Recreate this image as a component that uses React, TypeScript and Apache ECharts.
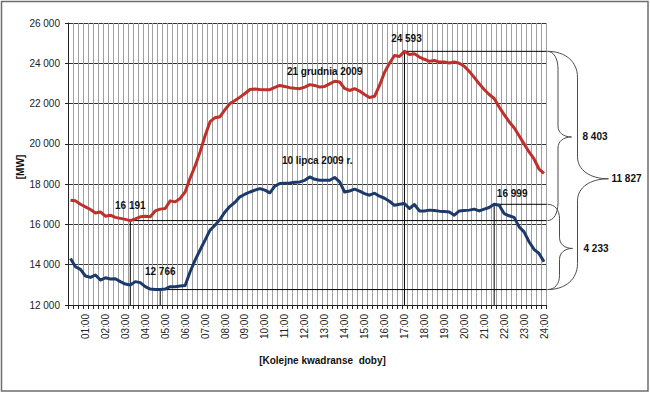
import React, { useEffect, useRef } from "react";
import * as echarts from "echarts";

// 96 quarter-hour categories (00:15 ... 24:00)
const categories: string[] = [];
for (let h = 0; h < 24; h++) {
  for (const m of [15, 30, 45, 60]) {
    const hh = m === 60 ? h + 1 : h;
    const mm = m === 60 ? 0 : m;
    categories.push(String(hh).padStart(2, "0") + ":" + String(mm).padStart(2, "0"));
  }
}

const december21: number[] = [
  17200, 17170, 17000, 16870, 16740, 16570, 16620, 16410, 16460, 16350, 16300, 16250,
  16190.6, 16280, 16380, 16410, 16380, 16670, 16760, 16790, 17170, 17120, 17290, 17610,
  18300, 18900, 19600, 20400, 21100, 21300, 21350, 21700, 22000, 22150, 22320, 22500,
  22700, 22720, 22700, 22690, 22690, 22800, 22900, 22850, 22790, 22760, 22740, 22820,
  22940, 22900, 22820, 22850, 22980, 23110, 23070, 22750, 22650, 22740, 22620, 22450,
  22300, 22360, 22900, 23550, 24000, 24390, 24340, 24593.4, 24440, 24470, 24310, 24200,
  24100, 24140, 24060, 24060, 24010, 24060, 24000, 23850, 23600, 23300, 22980, 22700,
  22450, 22250, 21830, 21450, 21100, 20800, 20400, 20000, 19600, 19250, 18750, 18530,
];

const july10: number[] = [
  14310, 13900, 13770, 13440, 13370, 13490, 13240, 13350, 13290, 13300, 13160, 13040,
  12990, 13160, 13110, 12910, 12790, 12770, 12766, 12790, 12910, 12910, 12940, 12970,
  13650, 14230, 14730, 15220, 15720, 15960, 16250, 16620, 16900, 17100, 17370, 17500,
  17610, 17700, 17780, 17700, 17570, 17900, 18030, 18050, 18060, 18090, 18110, 18190,
  18360, 18240, 18190, 18190, 18190, 18330, 18110, 17610, 17660, 17750, 17650, 17530,
  17450, 17550, 17400, 17300, 17150, 16950, 17000, 17040, 16790, 16990, 16670, 16670,
  16710, 16690, 16660, 16640, 16620, 16460, 16670, 16690, 16710, 16760, 16670, 16760,
  16840, 16999, 16950, 16540, 16430, 16350, 15880, 15630, 15140, 14760, 14560, 14150,
];

// annotated points (indices into categories)
const redPeakIndex = 67;      // 17:00
const redLowIndex = 12;       // 03:15
const bluePeakIndex = 85;     // 21:30 (evening peak)
const blueLowIndex = 18;      // 04:45

const yMin = 12000;
const yMax = 26000;
const yStep = 2000;

const redName = "21 grudnia 2009";
const blueName = "10 lipca 2009 r.";
const yAxisTitle = "[MW]";
const xAxisTitle = "[Kolejne kwadranse  doby]";

const W = 650;
const H = 393;
const GRID = { left: 68, right: 103.5, top: 23, bottom: 88 };
const FONT = "'Liberation Sans', Arial, sans-serif";
const RED = "#C0302B";
const BLUE = "#1B3A6B";

function fmt(n: number): string {
  return String(Math.round(n)).replace(/\B(?=(\d{3})+(?!\d))/g, " ");
}

function brace(x0: number, yTop: number, yBot: number, xs: number, xt: number, ym: number, r: number, r2: number) {
  const st = { stroke: "#4d4d4d", lineWidth: 1, fill: null as any };
  const els: any[] = [];
  const bc = (x1: number, y1: number, c1x: number, c1y: number, c2x: number, c2y: number, x2: number, y2: number) =>
    els.push({ type: "bezierCurve", shape: { x1, y1, cpx1: c1x, cpy1: c1y, cpx2: c2x, cpy2: c2y, x2, y2 }, style: st, silent: true });
  const ln = (x1: number, y1: number, x2: number, y2: number) =>
    els.push({ type: "line", shape: { x1, y1, x2, y2 }, style: st, silent: true });
  bc(x0, yTop, x0 + (xs - x0) * 0.6, yTop, xs, yTop + r * 0.4, xs, yTop + r);
  ln(xs, yTop + r, xs, ym - r2);
  bc(xs, ym - r2, xs, ym - r2 * 0.4, xs + (xt - xs) * 0.4, ym, xt, ym);
  bc(xt, ym, xs + (xt - xs) * 0.4, ym, xs, ym + r2 * 0.4, xs, ym + r2);
  ln(xs, ym + r2, xs, yBot - r);
  bc(xs, yBot - r, xs, yBot - r * 0.4, x0 + (xs - x0) * 0.6, yBot, x0, yBot);
  return els;
}

export default function App() {
  const ref = useRef<HTMLDivElement>(null);
  useEffect(() => {
    const chart = echarts.init(ref.current!, null, { renderer: "svg", width: W, height: H });
    chart.setOption({
      animation: false,
      backgroundColor: "#ffffff",
      textStyle: { fontFamily: FONT },
      grid: { left: GRID.left, right: GRID.right, top: GRID.top, bottom: GRID.bottom },
      xAxis: {
        type: "category",
        data: categories,
        boundaryGap: true,
        axisLine: { lineStyle: { color: "#222", width: 1 } },
        axisTick: { show: true, interval: 0, length: 4, lineStyle: { color: "#222" } },
        axisLabel: {
          interval: (i: number) => i % 4 === 3,
          rotate: 90,
          margin: 9,
          fontSize: 10,
          color: "#222",
          fontFamily: FONT,
        },
        splitLine: { show: true, interval: 0, lineStyle: { color: "#a0a0a0", width: 1 } },
      },
      yAxis: {
        type: "value",
        min: yMin,
        max: yMax,
        interval: yStep,
        axisLine: { show: true, lineStyle: { color: "#222" } },
        axisTick: { show: true, length: 3, lineStyle: { color: "#222" } },
        axisLabel: { formatter: (v: number) => fmt(v), fontSize: 10, color: "#222", margin: 8, fontFamily: FONT },
        splitLine: { show: true, lineStyle: { color: "#333", width: 1 } },
      },
      series: [
        {
          name: redName,
          type: "line",
          data: december21,
          showSymbol: false,
          lineStyle: { color: RED, width: 3, join: "round" },
          itemStyle: { color: RED },
          z: 3,
        },
        {
          name: blueName,
          type: "line",
          data: july10,
          showSymbol: false,
          lineStyle: { color: BLUE, width: 3, join: "round" },
          itemStyle: { color: BLUE },
          z: 3,
        },
      ],
    });

    const p = (i: number, v: number) => chart.convertToPixel({ gridIndex: 0 }, [categories[i], v]) as number[];
    const R = W - GRID.right;
    const B = p(0, yMin)[1];

    const rMaxV = december21[redPeakIndex];
    const rMinV = december21[redLowIndex];
    const bMaxV = july10[bluePeakIndex];
    const bMinV = july10[blueLowIndex];

    const rMax = p(redPeakIndex, rMaxV);
    const rMin = p(redLowIndex, rMinV);
    const bMax = p(bluePeakIndex, bMaxV);
    const bMin = p(blueLowIndex, bMinV);

    const lineStyle = { stroke: "#000", lineWidth: 1 };
    const g: any[] = [];
    for (const pt of [rMax, rMin, bMax, bMin]) {
      g.push({ type: "line", shape: { x1: pt[0], y1: pt[1], x2: pt[0], y2: B }, style: lineStyle, silent: true, z: 2 });
      g.push({ type: "line", shape: { x1: pt[0], y1: pt[1], x2: R, y2: pt[1] }, style: lineStyle, silent: true, z: 2 });
    }

    const txt = (text: string, x: number, y: number, align = "center", bold = true, size = 10) => ({
      type: "text",
      x,
      y,
      silent: true,
      z: 10,
      style: {
        text,
        fill: "#111",
        font: `${bold ? "bold " : ""}${size}px ${FONT}`,
        align,
        verticalAlign: "middle",
      },
    });

    g.push(txt(fmt(rMaxV), rMax[0] + 2, rMax[1] - 12.5));
    g.push(txt(fmt(rMinV), rMin[0], rMin[1] - 15.5));
    g.push(txt(fmt(bMinV), bMin[0], bMin[1] - 18));
    g.push(txt(fmt(bMaxV), bMax[0] + 18, bMax[1] - 11));

    const rl = p(51, december21[51]);
    g.push(txt(redName, rl[0], rl[1] - 15));
    const bl = p(50, july10[50]);
    g.push(txt(blueName, bl[0] - 2.5, bl[1] - 20));

    // braces
    const ymA = (rMax[1] + rMin[1]) / 2 + 1;
    g.push(...brace(R + 1, rMax[1], rMin[1], R + 11.5, R + 25, ymA, 18, 11));
    g.push(txt(fmt(rMaxV - rMinV), R + 36, ymA, "left"));

    const ymB = (bMax[1] + bMin[1]) / 2 + 1.5;
    g.push(...brace(R + 1, bMax[1], bMin[1], R + 13, R + 26, ymB, 14, 11));
    g.push(txt(fmt(bMaxV - bMinV), R + 37, ymB, "left"));

    const ymC = rMax[1] + (bMin[1] - rMax[1]) * 0.535;
    g.push(...brace(R + 1, rMax[1], bMin[1], R + 31, R + 62, ymC, 26, 22));
    g.push(txt(fmt(rMaxV - bMinV), R + 65, ymC, "left"));

    // axis titles
    g.push({
      type: "text",
      x: 20,
      y: 167,
      rotation: Math.PI / 2,
      silent: true,
      style: { text: yAxisTitle, fill: "#111", font: `bold 10px ${FONT}`, align: "center", verticalAlign: "middle" },
    });
    g.push(txt(xAxisTitle, 322.5, 360.5, "center", true, 10));

    // outer frame
    g.push({
      type: "rect",
      shape: { x: 1.5, y: 1.5, width: 646.5, height: 389.5 },
      style: { stroke: "#6e6e6e", lineWidth: 1.5, fill: null },
      silent: true,
      z: 20,
    });

    chart.setOption({ graphic: g });

    return () => chart.dispose();
  }, []);

  return <div ref={ref} style={{ position: "absolute", left: 0, top: 0, width: W, height: H }} />;
}
